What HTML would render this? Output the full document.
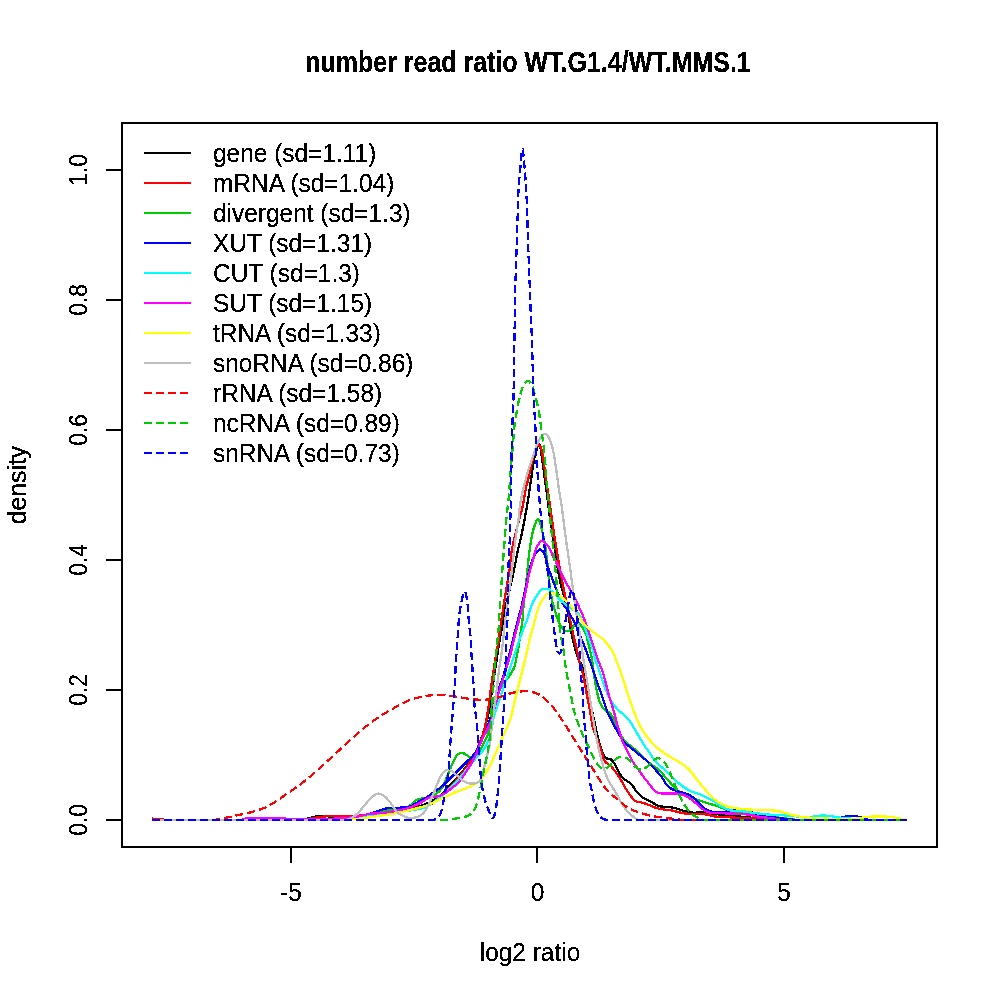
<!DOCTYPE html>
<html><head><meta charset="utf-8"><title>density</title><style>html,body{margin:0;padding:0;background:#fff}svg{display:block}</style></head><body>
<svg width="1000" height="1000" viewBox="0 0 1000 1000">
<defs><filter id="bw" x="-5%" y="-5%" width="110%" height="110%" color-interpolation-filters="sRGB"><feComponentTransfer><feFuncA type="discrete" tableValues="0 1 1"/></feComponentTransfer></filter></defs>
<rect width="1000" height="1000" fill="#fff"/>
<g fill="none" stroke-width="2.3" stroke-linejoin="round" stroke-linecap="butt" shape-rendering="crispEdges">
<path d="M152.0,820.0 C201.3,820.0 250.7,820.0 300.0,820.0 C304.1,819.9 308.0,818.4 312.0,817.5 C314.0,817.1 316.0,816.2 318.0,816.0 C320.7,815.7 323.3,815.8 326.0,816.0 C328.7,816.3 331.3,817.3 334.0,817.5 C338.0,817.8 342.0,817.7 346.0,817.6 C351.3,817.4 356.7,817.2 362.0,816.5 C368.1,815.7 374.0,814.1 380.0,813.0 C384.7,812.1 389.3,811.2 394.0,810.4 C399.3,809.5 404.7,809.0 410.0,808.0 C414.4,807.2 418.8,806.4 423.0,805.0 C426.8,803.7 430.5,802.0 434.0,800.0 C436.8,798.4 439.6,796.6 442.0,794.4 C445.0,791.6 447.2,788.0 450.0,785.0 C452.6,782.2 455.5,779.7 458.0,776.8 C460.8,773.6 463.4,770.3 466.0,767.0 C468.8,763.4 471.9,760.0 474.0,756.0 C477.2,749.9 479.7,743.3 482.0,736.8 C484.4,730.0 486.4,723.0 488.0,716.0 C489.6,708.8 490.4,701.3 491.5,694.0 C492.5,687.3 493.5,680.7 494.5,674.0 C495.5,667.3 496.5,660.7 497.5,654.0 C498.3,648.7 499.1,643.3 500.0,638.0 C500.9,632.7 502.0,627.3 503.0,622.0 C504.0,616.3 504.8,610.6 506.0,605.0 C507.2,599.3 508.7,593.7 510.0,588.0 C511.4,582.0 512.7,576.0 514.0,570.0 C515.4,563.3 516.6,556.6 518.0,550.0 C519.2,544.3 520.8,538.7 522.0,533.0 C522.9,528.7 523.7,524.3 524.5,520.0 C525.7,513.3 526.9,506.7 528.0,500.0 C529.1,493.3 530.0,486.7 531.0,480.0 C532.0,473.3 532.8,466.6 534.0,460.0 C534.6,456.6 535.4,453.3 536.5,450.0 C537.1,448.1 537.2,445.4 539.0,444.5 C540.1,443.9 540.2,446.8 540.5,448.0 C541.2,451.3 541.5,454.7 542.0,458.0 C543.0,465.3 544.0,472.7 545.0,480.0 C545.7,485.0 546.3,490.0 547.0,495.0 C548.0,502.7 548.9,510.3 550.0,518.0 C550.6,522.0 551.4,526.0 552.0,530.0 C553.0,536.7 554.0,543.3 555.0,550.0 C556.0,556.7 556.9,563.4 558.0,570.0 C558.9,575.0 559.8,580.0 561.0,585.0 C562.2,590.0 563.8,595.0 565.0,600.0 C566.3,605.3 567.4,610.6 568.5,616.0 C569.3,620.0 569.8,624.0 570.5,628.0 C571.3,632.0 572.1,636.0 573.0,640.0 C573.6,642.7 574.3,645.4 575.0,648.0 C575.9,651.4 576.7,654.8 578.0,658.0 C579.1,660.8 580.9,663.2 582.0,666.0 C583.1,668.9 583.7,672.0 584.5,675.0 C585.2,677.3 586.0,679.6 586.5,682.0 C587.3,685.6 587.8,689.3 588.5,693.0 C589.3,697.0 590.2,701.0 591.0,705.0 C591.7,708.3 592.3,711.7 593.0,715.0 C593.6,718.0 594.4,721.0 595.0,724.0 C595.7,727.3 596.2,730.7 597.0,734.0 C597.9,737.9 598.8,741.8 600.0,745.6 C601.0,748.9 602.1,752.1 603.6,755.2 C604.2,756.4 604.9,757.6 606.0,758.2 C607.4,759.0 609.4,758.5 610.8,759.4 C612.4,760.4 613.4,762.0 614.4,763.6 C615.8,765.9 616.6,768.5 618.0,770.8 C619.5,773.3 620.8,776.0 622.8,778.0 C625.2,780.4 628.8,781.6 631.2,784.0 C633.6,786.4 634.9,789.8 637.2,792.4 C639.0,794.4 641.0,796.3 643.2,797.8 C645.8,799.5 648.8,800.5 651.6,802.0 C654.0,803.3 656.1,805.4 658.8,806.2 C661.9,807.1 665.2,806.4 668.4,806.8 C671.1,807.2 673.8,807.8 676.4,808.5 C679.1,809.2 681.7,810.5 684.4,811.2 C687.6,812.0 690.8,812.7 694.0,812.8 C696.7,812.9 699.3,811.9 702.0,812.0 C705.2,812.1 708.4,813.2 711.6,813.6 C715.3,814.1 719.1,814.5 722.8,814.9 C726.5,815.3 730.3,815.6 734.0,816.0 C739.3,816.5 744.7,817.0 750.0,817.6 C753.2,817.9 756.4,818.4 759.6,818.7 C766.4,819.2 773.2,819.9 780.0,820.0 C822.3,820.0 864.7,820.0 907.0,820.0" stroke="#000"/>
<rect x="122" y="123" width="815" height="724" stroke="#000"/>
<path d="M291,847 H784 M291,847 V863 M537,847 V863 M784,847 V863" stroke="#000"/>
<path d="M122,820 V170 M122,820 H106 M122,690 H106 M122,560 H106 M122,430 H106 M122,300 H106 M122,170 H106" stroke="#000"/>
<path d="M152.0,818.6 C158.0,819.1 164.0,819.9 170.0,820.0 C213.3,820.0 256.7,820.0 300.0,820.0 C306.7,819.9 313.3,817.9 320.0,817.0 C323.3,816.6 326.7,816.2 330.0,816.0 C333.3,815.8 336.7,816.1 340.0,816.0 C347.3,815.9 354.7,816.1 362.0,815.5 C368.1,815.0 374.0,813.5 380.0,812.5 C384.7,811.7 389.3,810.6 394.0,810.0 C399.3,809.3 404.7,809.1 410.0,808.5 C414.0,808.1 418.0,807.7 422.0,807.0 C424.7,806.5 427.6,806.4 430.0,805.0 C434.5,802.3 438.2,798.5 442.0,795.0 C446.2,791.2 450.2,787.2 454.0,783.0 C458.3,778.2 462.2,773.1 466.0,768.0 C468.9,764.1 471.5,760.1 474.0,756.0 C475.2,754.0 476.1,751.8 477.0,749.6 C479.3,743.8 481.9,738.0 483.6,732.0 C485.8,724.1 487.0,716.0 488.4,708.0 C489.1,703.7 489.4,699.3 490.0,695.0 C490.9,688.0 492.0,681.0 493.0,674.0 C494.0,667.7 494.9,661.3 496.0,655.0 C496.7,650.7 497.8,646.4 498.5,642.0 C499.1,638.0 499.4,634.0 500.0,630.0 C500.8,624.3 501.6,618.7 502.5,613.0 C503.3,607.7 504.1,602.3 505.0,597.0 C505.6,593.0 506.3,589.0 507.0,585.0 C507.8,580.0 508.8,575.0 509.5,570.0 C510.3,564.0 510.6,558.0 511.5,552.0 C512.1,548.0 513.1,544.0 514.0,540.0 C515.6,533.3 517.3,526.7 519.0,520.0 C520.3,515.0 521.9,510.1 523.0,505.0 C524.2,499.4 524.8,493.6 526.0,488.0 C526.8,484.0 528.1,480.0 529.0,476.0 C530.1,471.3 530.9,466.7 532.0,462.0 C532.9,458.0 533.8,453.9 535.0,450.0 C535.4,448.6 536.1,447.2 537.0,446.0 C537.3,445.5 537.9,444.8 538.5,445.0 C539.4,445.3 540.1,446.2 540.5,447.0 C541.3,448.6 541.6,450.3 542.0,452.0 C542.8,456.0 543.4,460.0 544.0,464.0 C544.8,469.3 545.2,474.7 546.0,480.0 C546.6,484.0 547.4,488.0 548.0,492.0 C548.7,496.3 549.4,500.7 550.0,505.0 C550.7,510.0 551.3,515.0 552.0,520.0 C553.0,526.7 553.9,533.3 555.0,540.0 C555.9,546.0 557.0,552.0 558.0,558.0 C559.3,565.3 560.6,572.7 562.0,580.0 C563.3,586.7 564.6,593.4 566.0,600.0 C566.6,602.7 567.4,605.3 568.0,608.0 C568.8,611.6 569.3,615.3 570.0,619.0 C570.6,622.0 571.4,625.0 572.0,628.0 C572.7,631.3 573.3,634.7 574.0,638.0 C574.8,641.4 575.7,644.6 576.5,648.0 C577.4,652.0 578.0,656.0 579.0,660.0 C579.8,663.4 581.2,666.6 582.0,670.0 C583.0,674.0 583.7,678.0 584.5,682.0 C585.2,685.7 585.8,689.3 586.5,693.0 C587.3,697.0 588.2,701.0 589.0,705.0 C589.7,709.0 590.3,713.0 591.0,717.0 C591.6,720.7 592.0,724.4 593.0,728.0 C594.0,731.6 595.7,735.0 597.0,738.5 C598.4,742.5 599.8,746.4 601.2,750.4 C602.4,754.0 602.8,758.0 604.8,761.2 C606.1,763.4 609.0,764.2 610.8,766.0 C612.6,767.8 614.1,769.9 615.6,772.0 C617.3,774.3 618.9,776.7 620.4,779.2 C622.1,781.9 623.5,784.9 625.2,787.6 C626.7,790.1 628.3,792.5 630.0,794.8 C631.5,796.9 632.7,799.4 634.8,800.8 C636.9,802.1 639.6,801.9 642.0,802.6 C644.4,803.3 646.8,804.1 649.2,805.0 C651.6,805.9 653.9,807.3 656.4,808.0 C659.5,808.9 662.8,809.3 666.0,809.8 C668.0,810.1 670.0,810.1 672.0,810.5 C674.0,810.9 676.0,811.6 678.0,812.0 C680.7,812.6 683.3,813.3 686.0,813.6 C689.2,813.9 692.4,813.8 695.6,813.9 C698.8,814.0 702.0,814.0 705.2,814.4 C708.4,814.8 711.6,816.1 714.8,816.5 C718.5,817.0 722.3,816.9 726.0,817.1 C731.3,817.4 736.7,817.9 742.0,818.1 C747.9,818.3 753.8,817.9 759.6,818.4 C761.8,818.6 763.8,820.0 766.0,820.0 C813.0,820.0 860.0,820.0 907.0,820.0" stroke="#f00"/>
<path d="M152.0,820.0 C211.3,820.0 270.7,820.0 330.0,820.0 C335.0,820.0 340.0,818.8 345.0,818.3 C350.7,817.7 356.4,817.4 362.0,816.5 C366.4,815.8 370.7,814.6 375.0,813.5 C377.7,812.8 380.3,811.6 383.0,811.0 C386.6,810.2 390.3,810.0 394.0,809.5 C397.0,809.0 400.0,808.6 403.0,808.0 C404.8,807.6 406.7,807.2 408.4,806.4 C410.1,805.5 411.5,804.2 413.0,803.0 C414.2,802.1 415.0,800.6 416.4,800.0 C418.4,799.1 420.6,798.8 422.8,798.4 C424.8,798.0 427.0,798.3 429.0,797.6 C431.5,796.8 433.9,795.6 436.0,794.0 C438.3,792.3 440.4,790.4 442.0,788.0 C443.8,785.3 444.7,782.0 446.0,779.0 C447.9,774.6 449.6,770.0 451.6,765.6 C453.1,762.3 454.3,758.9 456.4,756.0 C457.5,754.5 459.2,753.2 461.0,752.8 C462.4,752.5 463.8,753.4 465.0,754.0 C466.5,754.7 467.5,756.2 469.0,756.8 C470.6,757.4 472.4,758.1 474.0,757.6 C475.4,757.2 476.1,755.6 477.0,754.5 C478.2,752.9 479.4,751.3 480.4,749.6 C482.7,745.4 484.9,741.2 486.8,736.8 C488.1,733.9 489.5,731.1 490.0,728.0 C491.2,720.4 490.8,712.6 492.0,705.0 C492.5,702.2 493.7,699.5 495.0,697.0 C496.4,694.2 498.3,691.7 500.0,689.0 C501.7,686.3 503.2,683.6 505.0,681.0 C505.5,680.2 506.4,679.7 507.0,679.0 C508.3,677.4 509.4,675.7 510.5,674.0 C511.7,672.0 513.2,670.2 514.0,668.0 C515.0,665.4 515.4,662.7 516.0,660.0 C516.7,656.7 517.4,653.4 518.0,650.0 C519.1,643.4 520.0,636.7 521.0,630.0 C521.5,626.7 522.2,623.4 522.5,620.0 C523.2,613.3 523.3,606.7 524.0,600.0 C524.7,593.3 525.8,586.7 526.5,580.0 C527.4,571.7 528.0,563.3 529.0,555.0 C529.8,548.3 530.7,541.6 532.0,535.0 C532.7,531.4 533.7,527.9 535.0,524.5 C535.7,522.7 536.1,520.1 538.0,519.5 C539.3,519.1 539.5,521.7 540.0,523.0 C540.9,525.3 541.5,527.6 542.0,530.0 C543.1,535.0 544.2,540.0 545.0,545.0 C545.8,550.0 546.4,555.0 547.0,560.0 C547.8,566.7 548.2,573.4 549.0,580.0 C549.8,586.7 550.7,593.4 552.0,600.0 C552.7,603.7 553.9,607.4 555.0,611.0 C555.9,614.0 556.8,617.1 558.0,620.0 C558.8,622.1 559.8,624.1 561.0,626.0 C561.9,627.4 562.6,629.0 564.0,630.0 C565.1,630.8 566.6,631.2 568.0,631.0 C569.5,630.8 570.9,630.1 572.0,629.0 C573.4,627.6 573.7,625.5 575.0,624.0 C575.8,623.1 576.9,621.5 578.0,622.0 C580.0,622.8 580.8,625.2 582.0,627.0 C583.5,629.2 585.0,631.5 586.0,634.0 C587.0,636.6 587.3,639.3 588.0,642.0 C588.7,644.7 589.4,647.3 590.0,650.0 C590.7,653.3 591.5,656.6 592.0,660.0 C592.8,665.0 593.3,670.0 594.0,675.0 C594.6,679.0 595.2,683.0 596.0,687.0 C596.7,690.7 597.5,694.4 598.5,698.0 C599.2,700.4 599.8,702.8 601.0,705.0 C602.0,706.9 603.4,708.6 605.0,710.0 C606.5,711.3 608.7,711.6 610.0,713.0 C611.8,715.0 612.9,717.6 614.0,720.0 C615.2,722.6 615.9,725.4 617.0,728.0 C618.2,730.7 619.4,733.5 621.0,736.0 C622.4,738.2 624.2,740.2 626.0,742.0 C627.8,743.8 630.0,745.3 632.0,747.0 C634.0,748.7 636.1,750.2 638.0,752.0 C640.3,754.1 642.1,756.7 644.4,758.8 C646.7,760.9 649.1,762.9 651.6,764.8 C653.9,766.5 656.7,767.7 658.8,769.6 C661.5,772.1 663.6,775.2 666.0,778.0 C667.3,779.5 668.7,780.9 670.0,782.4 C672.1,784.8 673.9,787.6 676.4,789.6 C679.3,791.9 682.7,793.5 686.0,795.2 C689.1,796.8 692.4,798.0 695.6,799.2 C698.8,800.4 702.0,801.4 705.2,802.4 C709.5,803.8 713.8,804.9 718.0,806.4 C720.7,807.3 723.2,808.8 726.0,809.6 C729.7,810.7 733.4,811.4 737.2,812.0 C741.4,812.7 745.7,813.0 750.0,813.6 C755.3,814.3 760.7,815.3 766.0,816.0 C771.3,816.7 776.7,817.4 782.0,818.0 C788.0,818.7 794.0,819.9 800.0,820.0 C835.7,820.0 871.3,820.0 907.0,820.0" stroke="#00cd00"/>
<path d="M152.0,820.0 C211.3,820.0 270.7,820.0 330.0,820.0 C335.0,820.0 340.0,818.9 345.0,818.3 C350.7,817.6 356.4,817.1 362.0,816.0 C366.1,815.2 370.0,813.7 374.0,812.5 C378.0,811.2 381.9,809.3 386.0,808.5 C389.9,807.7 394.0,808.1 398.0,807.8 C402.0,807.5 406.1,807.6 410.0,806.5 C412.9,805.6 415.3,803.5 418.0,802.0 C420.7,800.5 423.4,799.2 426.0,797.6 C428.8,795.9 431.3,793.9 434.0,792.0 C436.7,790.1 439.5,788.5 442.0,786.4 C444.9,784.0 447.3,781.2 450.0,778.5 C452.7,775.8 455.3,773.1 458.0,770.4 C460.7,767.7 463.3,765.2 466.0,762.5 C468.7,759.8 471.8,757.5 474.0,754.4 C477.2,749.9 479.6,744.9 482.0,740.0 C483.9,736.1 485.5,732.1 487.0,728.0 C488.7,723.4 490.1,718.7 491.5,714.0 C493.9,706.0 496.0,698.0 498.5,690.0 C500.0,685.3 501.8,680.7 503.3,676.0 C505.4,669.0 507.5,662.0 509.3,655.0 C511.1,648.0 512.6,641.0 514.3,634.0 C515.5,629.3 516.8,624.7 518.0,620.0 C519.3,614.8 520.7,609.7 522.0,604.5 C523.1,600.0 524.0,595.5 525.0,591.0 C526.1,585.7 527.1,580.3 528.3,575.0 C529.4,570.3 530.5,565.6 532.0,561.0 C532.8,558.4 534.0,555.9 535.3,553.5 C535.8,552.5 536.7,551.7 537.5,551.0 C538.2,550.4 539.0,549.5 540.0,549.5 C541.0,549.5 541.8,550.3 542.5,551.0 C543.6,552.2 544.5,553.5 545.0,555.0 C546.0,558.2 546.0,561.7 547.0,565.0 C548.0,568.4 549.7,571.6 551.0,575.0 C552.4,578.6 553.6,582.4 555.0,586.0 C556.6,590.0 558.2,594.0 560.0,598.0 C560.9,600.0 561.8,602.1 563.0,604.0 C564.5,606.4 566.4,608.6 568.0,611.0 C569.5,613.3 570.7,615.7 572.0,618.0 C573.3,620.3 574.9,622.5 576.0,625.0 C577.0,627.2 577.1,629.7 578.0,632.0 C578.8,634.1 580.1,636.0 581.0,638.0 C582.1,640.3 583.1,642.6 584.0,645.0 C585.1,647.6 586.0,650.3 587.0,653.0 C587.9,655.3 588.7,657.7 589.5,660.0 C590.7,663.3 591.9,666.7 593.0,670.0 C594.4,674.0 595.6,678.0 597.0,682.0 C598.3,685.7 599.7,689.3 601.0,693.0 C602.0,696.0 603.0,699.0 604.0,702.0 C605.0,705.0 605.8,708.1 607.0,711.0 C608.1,713.8 609.7,716.3 611.0,719.0 C612.3,721.7 613.6,724.4 615.0,727.0 C616.6,730.0 618.2,733.1 620.0,736.0 C621.5,738.4 623.1,740.9 625.0,743.0 C626.4,744.6 628.3,745.6 630.0,747.0 C632.0,748.6 634.0,750.3 636.0,752.0 C638.0,753.7 640.0,755.3 642.0,757.0 C644.4,759.0 646.9,760.8 649.2,763.0 C651.8,765.4 654.1,768.1 656.4,770.8 C658.5,773.1 660.6,775.5 662.4,778.0 C663.8,779.9 664.6,782.1 666.0,784.0 C667.1,785.5 668.4,787.0 670.0,788.0 C672.5,789.5 675.3,790.5 678.0,791.5 C680.6,792.4 683.4,792.6 686.0,793.6 C688.2,794.4 690.5,795.4 692.4,796.8 C694.8,798.6 696.6,801.1 698.8,803.2 C700.9,805.1 702.8,807.2 705.2,808.8 C707.2,810.1 709.3,811.3 711.6,811.7 C715.3,812.4 719.1,812.2 722.8,812.0 C726.6,811.8 730.2,810.7 734.0,810.4 C737.7,810.1 741.5,809.9 745.2,810.4 C748.0,810.7 750.5,812.1 753.2,812.8 C757.4,813.9 761.7,815.1 766.0,816.0 C770.2,816.9 774.5,817.5 778.8,818.0 C785.2,818.8 791.6,819.8 798.0,820.0 C810.3,820.0 822.7,820.0 835.0,820.0 C837.5,819.9 839.6,818.2 842.0,817.5 C844.0,816.9 846.0,816.5 848.0,816.3 C850.7,816.1 853.3,816.1 856.0,816.3 C858.0,816.5 860.0,817.0 862.0,817.5 C864.7,818.2 867.2,819.8 870.0,820.0 C882.3,820.0 894.7,820.0 907.0,820.0" stroke="#00f"/>
<path d="M152.0,820.0 C211.3,820.0 270.7,820.0 330.0,820.0 C335.4,820.0 340.7,818.8 346.0,818.3 C351.3,817.8 356.7,817.6 362.0,817.0 C368.0,816.3 374.0,815.3 380.0,814.5 C384.7,813.8 389.3,813.1 394.0,812.5 C398.3,811.9 402.7,811.7 407.0,811.0 C412.4,810.2 417.8,809.5 423.0,808.0 C425.5,807.3 427.7,805.8 430.0,804.5 C431.9,803.4 433.8,802.1 435.6,800.8 C437.8,799.1 439.9,797.3 442.0,795.5 C444.7,793.1 447.4,790.5 450.0,788.0 C452.7,785.4 455.5,782.8 458.0,780.0 C460.8,776.9 463.4,773.6 466.0,770.4 C468.7,767.1 471.3,763.7 474.0,760.5 C477.1,756.8 480.9,753.6 483.6,749.6 C486.3,745.6 488.6,741.4 490.0,736.8 C492.1,730.1 492.2,722.8 494.0,716.0 C495.9,708.9 498.7,702.0 501.0,695.0 C502.7,690.0 504.3,685.0 506.0,680.0 C508.0,674.0 510.0,668.0 512.0,662.0 C514.0,656.0 515.9,650.0 518.0,644.0 C519.6,639.3 521.3,634.6 523.0,630.0 C524.3,626.6 525.8,623.4 527.0,620.0 C528.1,616.7 528.9,613.3 530.0,610.0 C531.2,606.6 532.4,603.2 534.0,600.0 C535.1,597.9 536.7,596.0 538.0,594.0 C538.8,592.8 539.5,591.4 540.5,590.3 C541.0,589.7 541.7,589.1 542.5,589.0 C544.3,588.7 546.2,588.7 548.0,589.0 C548.9,589.2 549.7,589.8 550.5,590.3 C551.4,590.8 552.3,591.3 553.0,592.0 C555.5,594.4 557.6,597.1 560.0,599.5 C561.9,601.4 563.9,603.3 566.0,605.0 C567.9,606.5 570.0,607.6 572.0,609.0 C573.7,610.1 575.5,611.2 577.0,612.5 C578.2,613.5 579.2,614.7 580.0,616.0 C581.6,618.9 582.8,621.9 584.0,625.0 C585.1,627.9 585.9,631.0 587.0,634.0 C587.9,636.7 589.0,639.3 590.0,642.0 C591.0,644.7 592.2,647.3 593.0,650.0 C594.0,653.3 594.5,656.7 595.5,660.0 C596.5,663.4 597.9,666.7 599.0,670.0 C600.4,674.0 601.6,678.0 603.0,682.0 C604.3,685.7 605.4,689.4 607.0,693.0 C608.4,696.1 610.1,699.1 612.0,702.0 C613.8,704.8 615.7,707.6 618.0,710.0 C619.8,711.9 622.1,713.2 624.0,715.0 C625.7,716.6 627.6,718.1 629.0,720.0 C630.9,722.5 632.4,725.3 634.0,728.0 C635.7,730.8 637.3,733.7 639.0,736.5 C640.7,739.3 642.2,742.2 644.0,745.0 C645.6,747.4 647.4,749.6 649.0,752.0 C650.3,753.8 651.4,755.8 652.8,757.6 C654.7,760.1 656.6,762.6 658.8,764.8 C661.0,767.0 663.7,768.7 666.0,770.8 C667.4,772.1 668.6,773.7 670.0,775.0 C673.1,778.1 676.2,781.3 679.6,784.0 C682.6,786.4 685.8,788.7 689.2,790.4 C693.3,792.4 697.8,793.4 702.0,795.2 C705.8,796.9 709.6,798.7 713.2,800.8 C716.5,802.7 719.4,805.4 722.8,807.2 C725.3,808.6 728.0,809.8 730.8,810.4 C734.5,811.2 738.3,810.8 742.0,811.2 C745.7,811.6 749.5,812.3 753.2,812.8 C757.5,813.4 761.7,814.0 766.0,814.4 C771.3,814.8 776.7,814.9 782.0,815.2 C787.3,815.6 792.7,816.0 798.0,816.5 C800.7,816.8 803.3,817.5 806.0,817.5 C808.7,817.5 811.3,816.8 814.0,816.5 C816.7,816.2 819.3,815.6 822.0,815.5 C824.7,815.4 827.3,815.7 830.0,816.0 C832.7,816.3 835.3,817.2 838.0,817.5 C842.0,818.0 846.0,818.3 850.0,818.6 C856.7,819.1 863.3,819.8 870.0,820.0 C882.3,820.0 894.7,820.0 907.0,820.0" stroke="#0ff"/>
<path d="M152.0,820.0 C181.3,820.0 210.7,820.0 240.0,820.0 C242.7,819.9 245.3,818.2 248.0,818.0 C257.3,817.5 266.7,817.8 276.0,818.0 C280.7,818.1 285.3,818.8 290.0,818.8 C306.7,818.9 323.3,819.1 340.0,818.5 C346.0,818.3 352.0,817.4 358.0,816.5 C362.1,815.9 365.9,814.4 370.0,813.8 C374.3,813.2 378.7,813.5 383.0,813.0 C387.4,812.5 391.7,811.9 396.0,811.0 C400.7,810.0 405.5,809.1 410.0,807.5 C414.2,806.1 418.1,804.0 422.0,802.0 C424.4,800.7 426.4,798.5 429.0,797.6 C431.5,796.7 434.4,797.1 437.0,796.5 C439.4,795.9 441.8,795.2 444.0,794.0 C446.2,792.8 448.0,791.0 450.0,789.5 C452.7,787.4 455.7,785.5 458.0,783.0 C461.1,779.7 463.5,775.8 466.0,772.0 C468.8,767.8 471.7,763.6 474.0,759.0 C477.1,752.9 479.1,746.2 482.0,740.0 C484.5,734.6 487.5,729.4 490.0,724.0 C490.9,722.1 491.4,720.0 492.0,718.0 C494.4,709.4 496.5,700.6 499.0,692.0 C500.5,686.6 502.4,681.3 504.0,676.0 C506.0,669.3 508.2,662.7 510.0,656.0 C511.9,649.1 513.3,642.0 515.0,635.0 C516.3,630.0 517.7,625.0 519.0,620.0 C520.4,614.7 521.8,609.4 523.0,604.0 C524.1,599.4 525.1,594.7 526.0,590.0 C527.1,584.7 527.8,579.3 529.0,574.0 C530.1,569.3 531.7,564.7 533.0,560.0 C534.0,556.3 534.7,552.6 536.0,549.0 C536.7,547.0 537.7,545.2 539.0,543.5 C539.8,542.5 540.7,541.1 542.0,541.0 C543.2,540.9 544.1,542.2 545.0,543.0 C546.1,543.9 547.3,544.8 548.0,546.0 C550.0,549.2 551.3,552.7 553.0,556.0 C554.7,559.3 556.4,562.6 558.0,566.0 C559.7,569.6 561.2,573.4 563.0,577.0 C565.2,581.3 567.6,585.4 570.0,589.5 C571.6,592.4 573.5,595.1 575.0,598.0 C576.5,600.9 577.7,604.0 579.0,607.0 C580.3,610.0 581.8,613.0 583.0,616.0 C584.4,619.6 585.7,623.3 587.0,627.0 C588.0,630.0 589.0,633.0 590.0,636.0 C591.0,639.0 592.0,642.0 593.0,645.0 C594.0,648.0 595.0,651.0 596.0,654.0 C596.7,656.0 597.3,658.0 598.0,660.0 C599.3,663.4 600.8,666.6 602.0,670.0 C603.1,673.3 604.1,676.6 605.0,680.0 C606.1,684.0 606.9,688.0 608.0,692.0 C608.9,695.4 610.0,698.7 611.0,702.0 C612.0,705.3 613.1,708.6 614.0,712.0 C614.7,714.6 615.3,717.4 616.0,720.0 C616.9,723.4 618.0,726.7 619.0,730.0 C620.2,734.0 621.2,738.1 622.8,742.0 C624.1,745.3 626.0,748.4 627.6,751.6 C629.2,754.8 630.6,758.1 632.4,761.2 C634.2,764.2 636.4,766.8 638.4,769.6 C640.4,772.4 642.3,775.2 644.4,778.0 C645.9,780.0 647.6,782.0 649.2,784.0 C650.8,786.0 652.1,788.2 654.0,790.0 C655.4,791.3 657.0,792.5 658.8,793.0 C661.1,793.7 663.6,793.5 666.0,793.6 C669.2,793.7 672.4,793.3 675.6,793.5 C677.8,793.6 679.9,794.0 682.0,794.5 C683.4,794.8 684.8,795.3 686.0,796.0 C688.8,797.7 691.5,799.6 694.0,801.6 C696.8,803.8 699.1,806.7 702.0,808.8 C704.4,810.5 707.1,812.1 710.0,812.8 C713.6,813.7 717.5,813.2 721.2,813.3 C725.5,813.4 729.7,813.4 734.0,813.6 C738.3,813.8 742.6,813.9 746.8,814.4 C751.1,814.9 755.3,816.2 759.6,816.8 C764.4,817.5 769.2,817.7 774.0,818.4 C776.7,818.8 779.3,820.0 782.0,820.0 C823.7,820.0 865.3,820.0 907.0,820.0" stroke="#f0f"/>
<path d="M152.0,820.0 C214.7,820.0 277.3,820.0 340.0,820.0 C347.4,819.9 354.7,819.2 362.0,818.4 C367.4,817.8 372.7,816.8 378.0,816.0 C383.3,815.2 388.7,814.6 394.0,813.6 C399.4,812.6 404.7,811.3 410.0,810.0 C415.4,808.7 420.8,807.5 426.0,805.6 C431.5,803.6 436.7,800.8 442.0,798.4 C447.3,796.0 452.6,793.5 458.0,791.2 C463.3,789.0 468.9,787.5 474.0,784.8 C477.0,783.2 479.8,781.0 482.0,778.4 C485.2,774.5 487.7,770.1 490.0,765.6 C493.7,758.3 496.7,750.5 500.0,743.0 C503.4,735.3 507.2,727.9 510.0,720.0 C512.3,713.5 513.3,706.7 515.0,700.0 C516.7,693.3 518.3,686.7 520.0,680.0 C521.7,673.3 523.4,666.7 525.0,660.0 C526.7,652.7 528.2,645.3 530.0,638.0 C531.5,632.0 533.4,626.0 535.0,620.0 C535.7,617.3 536.2,614.6 537.0,612.0 C537.8,609.3 538.7,606.5 540.0,604.0 C541.4,601.2 543.1,598.5 545.0,596.0 C545.8,595.0 546.9,594.4 548.0,593.8 C548.9,593.3 550.0,593.0 551.0,593.0 C552.2,593.0 553.4,593.3 554.5,593.6 C555.7,593.9 556.9,594.4 558.0,595.0 C559.4,595.7 560.7,596.6 562.0,597.5 C563.4,598.6 564.7,599.8 566.0,601.0 C568.1,602.9 570.2,604.8 572.0,607.0 C573.9,609.2 575.3,611.7 577.0,614.0 C578.7,616.3 580.3,618.7 582.0,621.0 C583.6,623.1 585.2,625.2 587.0,627.0 C588.8,628.8 590.9,630.4 593.0,632.0 C595.3,633.7 597.7,635.3 600.0,637.0 C601.3,638.0 602.8,638.8 604.0,640.0 C605.5,641.5 606.7,643.3 608.0,645.0 C609.0,646.3 610.1,647.6 611.0,649.0 C612.1,650.6 613.2,652.2 614.0,654.0 C614.9,655.9 615.3,658.0 616.0,660.0 C617.3,663.4 618.8,666.6 620.0,670.0 C621.4,674.0 622.7,678.0 624.0,682.0 C625.4,686.3 626.6,690.7 628.0,695.0 C629.2,698.7 630.7,702.3 632.0,706.0 C633.3,709.7 634.6,713.4 636.0,717.0 C637.2,720.0 638.5,723.1 640.0,726.0 C641.5,728.8 643.2,731.4 645.0,734.0 C646.6,736.3 648.3,738.4 650.0,740.5 C651.6,742.4 653.2,744.3 655.0,746.0 C656.9,747.8 659.0,749.4 661.2,751.0 C664.1,753.1 667.0,754.9 670.0,756.8 C673.1,758.8 676.5,760.3 679.6,762.4 C682.9,764.6 686.4,766.8 689.2,769.6 C692.3,772.7 694.5,776.6 697.2,780.0 C699.8,783.3 702.5,786.5 705.2,789.6 C707.8,792.6 710.2,795.8 713.2,798.4 C716.1,800.9 719.3,803.2 722.8,804.8 C726.3,806.4 730.2,807.3 734.0,808.0 C739.3,808.9 744.7,809.3 750.0,809.6 C755.3,809.9 760.7,809.7 766.0,810.0 C770.3,810.2 774.6,810.4 778.8,811.2 C782.6,811.9 786.2,813.5 790.0,814.4 C793.7,815.3 797.4,816.2 801.2,816.8 C805.4,817.4 809.7,817.7 814.0,818.0 C819.3,818.4 824.7,818.6 830.0,818.7 C838.3,818.9 846.7,819.1 855.0,818.8 C858.0,818.7 861.0,817.7 864.0,817.3 C866.7,817.0 869.3,816.7 872.0,816.6 C876.7,816.5 881.3,816.4 886.0,816.6 C888.7,816.7 891.3,817.1 894.0,817.5 C896.7,817.9 899.3,818.3 902.0,818.8 C903.7,819.1 905.3,819.6 907.0,820.0" stroke="#ff0"/>
<path d="M152.0,820.0 C216.0,820.0 280.0,820.0 344.0,820.0 C346.3,820.0 348.8,819.5 350.8,818.4 C353.8,816.8 356.4,814.4 358.8,812.0 C362.3,808.5 365.1,804.4 368.4,800.8 C370.1,798.9 371.9,797.0 374.0,795.5 C375.4,794.5 377.1,793.5 378.8,793.6 C380.7,793.7 382.5,794.7 384.0,795.8 C385.9,797.2 387.5,799.0 389.0,800.8 C391.9,804.4 393.9,808.6 397.0,812.0 C398.6,813.8 400.9,814.8 403.0,816.0 C404.3,816.7 405.6,817.4 407.0,817.6 C409.6,818.0 412.4,818.0 415.0,817.6 C416.8,817.4 418.5,816.7 420.0,815.8 C421.7,814.8 423.4,813.6 424.4,812.0 C427.6,806.9 429.9,801.4 432.4,796.0 C435.3,789.7 437.3,783.0 440.4,776.8 C441.4,774.8 442.8,773.0 444.5,771.5 C445.6,770.5 447.0,769.6 448.4,769.6 C449.9,769.6 451.3,770.7 452.5,771.5 C453.9,772.5 455.1,773.9 456.4,775.0 C459.0,777.2 461.5,779.7 464.4,781.6 C465.8,782.5 467.4,783.0 469.0,783.3 C470.6,783.6 472.3,783.7 474.0,783.5 C475.4,783.3 476.8,783.0 478.0,782.3 C479.0,781.8 480.0,781.0 480.4,780.0 C482.4,774.8 483.6,769.4 485.0,764.0 C486.8,757.0 488.8,750.1 490.0,743.0 C491.3,735.4 491.5,727.7 492.5,720.0 C493.5,711.7 494.9,703.3 496.0,695.0 C497.1,686.7 497.9,678.3 499.0,670.0 C499.9,663.3 501.2,656.7 502.0,650.0 C503.2,640.7 503.9,631.3 505.0,622.0 C505.9,614.7 507.0,607.3 508.0,600.0 C508.8,594.0 509.7,588.0 510.5,582.0 C511.4,574.7 512.1,567.3 513.0,560.0 C514.0,551.7 514.9,543.3 516.0,535.0 C516.7,530.0 517.8,525.0 518.5,520.0 C519.2,515.0 519.3,510.0 520.0,505.0 C520.8,500.0 521.8,495.0 523.0,490.0 C524.2,485.0 525.6,480.0 527.0,475.0 C528.2,470.6 529.6,466.3 531.0,462.0 C532.3,458.0 533.6,454.0 535.0,450.0 C536.2,446.6 537.4,443.2 539.0,440.0 C539.8,438.4 540.7,436.8 542.0,435.5 C542.8,434.7 543.9,434.0 545.0,434.0 C546.0,434.0 546.9,434.8 547.5,435.5 C548.6,436.8 549.4,438.4 550.0,440.0 C551.2,443.3 552.3,446.6 553.0,450.0 C554.3,455.9 555.1,462.0 556.0,468.0 C557.1,475.3 557.9,482.7 559.0,490.0 C559.7,495.0 560.7,500.0 561.5,505.0 C562.2,510.0 562.9,515.0 563.5,520.0 C564.4,526.7 565.1,533.3 566.0,540.0 C566.9,546.7 568.0,553.3 569.0,560.0 C569.7,565.0 570.3,570.0 571.0,575.0 C571.7,580.0 572.3,585.0 573.0,590.0 C573.7,595.0 574.3,600.0 575.0,605.0 C575.8,610.0 576.7,615.0 577.5,620.0 C578.3,625.0 579.2,630.0 580.0,635.0 C580.7,640.0 581.3,645.0 582.0,650.0 C582.5,653.3 583.0,656.7 583.5,660.0 C584.3,665.0 585.2,670.0 586.0,675.0 C586.8,680.0 587.7,685.0 588.5,690.0 C589.3,695.0 590.2,700.0 591.0,705.0 C591.7,709.3 592.3,713.7 593.0,718.0 C593.6,722.0 594.3,726.0 595.0,730.0 C595.7,734.0 596.4,738.0 597.2,742.0 C598.0,746.0 599.0,750.0 600.0,754.0 C601.3,759.2 602.6,764.5 604.2,769.6 C605.4,773.3 606.7,776.9 608.4,780.4 C610.5,784.6 613.3,788.4 615.6,792.4 C617.7,796.0 619.4,799.7 621.6,803.2 C623.4,806.1 625.3,809.0 627.6,811.6 C629.4,813.6 631.4,815.5 633.6,817.0 C635.4,818.3 637.4,820.0 639.6,820.0 C728.7,820.0 817.9,820.0 907.0,820.0" stroke="#bebebe"/>
<path d="M152.0,818.8 C156.7,819.2 161.3,819.9 166.0,820.0 C175.7,820.0 185.3,820.0 195.0,820.0 C201.0,820.0 207.0,820.0 213.0,820.0 C217.0,819.7 221.0,818.8 225.0,818.0 C228.0,817.4 231.0,816.7 234.0,816.0 C239.3,814.8 244.7,813.9 250.0,812.5 C254.7,811.2 259.5,809.9 264.0,808.0 C267.9,806.4 271.4,804.2 275.0,802.0 C278.8,799.7 282.3,796.9 286.0,794.4 C289.3,792.1 292.7,789.9 296.0,787.5 C299.4,785.1 302.7,782.6 306.0,780.0 C309.4,777.3 312.7,774.4 316.0,771.5 C319.4,768.5 322.7,765.4 326.0,762.4 C328.3,760.3 330.7,758.1 333.0,756.0 C337.3,752.0 341.6,748.0 346.0,744.0 C351.3,739.2 356.5,734.2 362.0,729.6 C367.1,725.4 372.5,721.3 378.0,717.6 C383.2,714.1 388.6,711.0 394.0,708.0 C399.2,705.1 404.4,702.1 410.0,700.0 C415.1,698.1 420.6,696.9 426.0,696.0 C431.3,695.2 436.7,694.7 442.0,694.9 C447.4,695.1 452.7,696.3 458.0,697.0 C463.3,697.8 468.6,699.0 474.0,699.4 C478.7,699.8 483.4,699.9 488.0,699.5 C492.1,699.1 496.1,698.1 500.0,697.0 C503.4,696.1 506.6,694.5 510.0,693.5 C512.6,692.7 515.3,692.1 518.0,691.8 C521.3,691.4 524.7,690.8 528.0,691.2 C531.4,691.6 534.9,692.5 538.0,694.0 C541.0,695.5 543.5,697.8 546.0,700.0 C548.1,701.8 550.2,703.9 552.0,706.0 C554.2,708.5 556.1,711.3 558.0,714.0 C559.4,716.0 560.7,718.0 562.0,720.0 C564.2,723.3 566.4,726.6 568.5,730.0 C570.1,732.5 571.5,735.0 573.0,737.5 C574.8,740.4 576.6,743.2 578.4,746.0 C580.8,749.9 583.2,753.7 585.6,757.6 C588.4,762.0 591.2,766.4 594.0,770.8 C596.0,774.0 597.9,777.3 600.0,780.4 C601.9,783.3 603.8,786.2 606.0,788.8 C607.8,791.0 609.9,792.9 612.0,794.8 C614.3,796.9 616.8,798.8 619.2,800.8 C621.6,802.8 623.8,805.1 626.4,806.8 C628.6,808.3 631.1,809.4 633.6,810.4 C636.3,811.6 639.2,812.5 642.0,813.4 C645.2,814.3 648.4,815.1 651.6,815.8 C654.8,816.5 658.0,817.0 661.2,817.4 C665.2,818.0 669.2,818.4 673.2,818.8 C677.2,819.2 681.2,820.0 685.2,820.0 C759.1,820.0 833.1,820.0 907.0,820.0" stroke="#f00" stroke-dasharray="8 4"/>
<path d="M152.0,820.0 C248.7,820.0 345.3,820.0 442.0,820.0 C446.4,820.0 450.7,819.3 455.0,818.6 C459.2,817.9 463.6,817.4 467.6,816.0 C469.4,815.4 470.7,813.9 472.0,812.5 C473.4,810.9 474.8,809.2 475.6,807.2 C477.1,803.6 477.9,799.8 478.8,796.0 C480.6,788.0 482.0,780.0 483.6,772.0 C485.2,764.0 487.1,756.1 488.4,748.0 C489.4,742.0 490.0,736.0 490.5,730.0 C491.4,720.0 491.8,710.0 492.5,700.0 C493.1,690.7 493.8,681.3 494.5,672.0 C494.9,666.3 495.5,660.7 496.0,655.0 C496.5,650.0 497.0,645.0 497.5,640.0 C498.0,635.3 498.5,630.7 498.8,626.0 C499.1,621.7 499.2,617.3 499.5,613.0 C499.7,609.3 500.0,605.7 500.3,602.0 C500.6,598.3 501.0,594.7 501.2,591.0 C501.5,585.7 501.7,580.3 502.0,575.0 C502.4,568.3 503.0,561.7 503.5,555.0 C504.0,548.3 504.5,541.7 505.0,535.0 C505.5,529.3 505.9,523.7 506.5,518.0 C507.1,512.0 507.9,506.0 508.5,500.0 C509.1,493.3 509.5,486.7 510.0,480.0 C510.5,473.3 510.9,466.7 511.5,460.0 C511.9,455.0 512.6,450.0 513.0,445.0 C513.4,440.0 513.5,435.0 514.0,430.0 C514.3,426.7 514.8,423.3 515.3,420.0 C515.8,416.7 516.4,413.3 517.0,410.0 C517.6,406.7 518.2,403.3 519.0,400.0 C519.9,396.3 520.7,392.6 522.0,389.0 C522.7,386.9 523.7,384.8 525.0,383.0 C525.8,381.9 526.7,380.5 528.0,380.5 C529.2,380.5 529.8,382.0 530.5,383.0 C531.5,384.6 532.4,386.2 533.0,388.0 C534.2,391.6 535.0,395.3 536.0,399.0 C536.9,402.3 537.8,405.6 538.5,409.0 C539.2,412.3 539.5,415.7 540.0,419.0 C540.5,422.7 541.0,426.3 541.5,430.0 C542.0,434.0 542.5,438.0 543.0,442.0 C543.5,446.0 544.1,450.0 544.5,454.0 C544.9,458.0 545.2,462.0 545.5,466.0 C545.9,470.7 546.1,475.3 546.5,480.0 C546.9,485.0 547.5,490.0 548.0,495.0 C548.5,500.0 549.0,505.0 549.5,510.0 C549.8,513.3 550.0,516.7 550.3,520.0 C551.1,528.3 552.1,536.7 553.0,545.0 C553.7,551.7 554.4,558.3 555.0,565.0 C555.7,572.7 556.4,580.3 557.0,588.0 C557.6,595.3 558.0,602.7 558.5,610.0 C559.0,616.7 559.2,623.4 560.0,630.0 C560.8,636.7 562.5,643.3 563.5,650.0 C564.3,655.3 564.7,660.7 565.5,666.0 C566.1,670.0 566.8,674.0 567.5,678.0 C568.1,681.3 568.8,684.7 569.5,688.0 C570.2,691.3 570.9,694.7 571.5,698.0 C572.2,701.7 572.6,705.4 573.5,709.0 C574.3,712.4 575.4,715.7 576.5,719.0 C577.5,722.0 578.8,725.0 580.0,728.0 C581.3,731.3 582.5,734.7 584.0,738.0 C585.4,741.1 587.1,744.0 588.5,747.0 C590.0,750.1 591.2,753.4 592.8,756.4 C594.6,759.7 596.3,763.1 598.8,766.0 C600.0,767.4 601.7,769.0 603.6,769.0 C605.8,769.0 607.9,767.4 609.6,766.0 C611.2,764.7 611.8,762.6 613.2,761.2 C614.6,759.8 616.2,758.6 618.0,757.6 C619.1,757.0 620.4,756.4 621.6,756.6 C623.7,756.9 625.8,757.6 627.6,758.8 C629.5,760.0 630.8,762.0 632.4,763.6 C634.0,765.2 635.3,767.2 637.2,768.4 C638.6,769.3 640.4,770.0 642.0,769.6 C644.3,769.1 646.2,767.4 648.0,766.0 C649.8,764.6 651.0,762.6 652.8,761.2 C654.3,760.0 655.7,758.2 657.6,758.2 C659.8,758.2 662.1,759.6 663.6,761.2 C665.8,763.5 666.9,766.7 668.4,769.6 C669.7,772.2 670.9,774.8 672.0,777.5 C673.0,779.9 673.8,782.4 674.8,784.8 C676.3,788.6 677.8,792.4 679.6,796.0 C681.5,799.8 683.5,803.7 686.0,807.2 C687.8,809.8 690.0,812.3 692.4,814.4 C694.3,816.0 696.6,817.0 698.8,818.1 C700.3,818.9 701.9,820.0 703.6,820.0 C771.4,820.0 839.2,820.0 907.0,820.0" stroke="#00cd00" stroke-dasharray="8 4"/>
<path d="M152.0,820.0 C245.5,820.0 338.9,820.0 432.4,820.0 C434.1,820.0 435.7,819.0 437.0,818.0 C438.4,816.8 439.7,815.3 440.4,813.6 C442.0,809.5 442.8,805.1 443.6,800.8 C445.4,791.2 447.2,781.7 448.4,772.0 C449.4,764.0 449.4,756.0 450.0,748.0 C450.8,737.3 451.6,726.7 452.4,716.0 C453.2,705.3 454.1,694.7 454.8,684.0 C455.3,676.0 455.5,668.0 456.0,660.0 C456.3,655.7 456.7,651.3 457.0,647.0 C457.3,643.0 457.5,639.0 457.8,635.0 C458.0,631.3 458.2,627.7 458.5,624.0 C458.8,620.3 459.0,616.6 459.5,613.0 C460.0,609.3 460.8,605.7 461.5,602.0 C462.0,599.7 462.3,597.3 463.0,595.0 C463.3,593.8 463.2,591.5 464.5,591.5 C465.8,591.5 465.7,593.8 466.0,595.0 C466.7,597.6 467.2,600.3 467.5,603.0 C468.0,607.0 468.0,611.0 468.3,615.0 C468.6,619.0 469.1,623.0 469.5,627.0 C469.9,630.7 470.3,634.3 470.6,638.0 C470.9,642.0 471.0,646.0 471.2,650.0 C471.4,654.0 471.7,658.0 472.0,662.0 C472.5,669.7 473.1,677.3 473.5,685.0 C473.9,691.7 473.9,698.3 474.5,705.0 C474.9,710.0 475.9,715.0 476.4,720.0 C477.3,729.3 478.1,738.7 478.8,748.0 C479.7,758.7 479.9,769.4 481.2,780.0 C482.0,787.0 483.4,794.0 485.2,800.8 C486.4,805.2 488.2,809.4 490.0,813.6 C490.7,815.2 490.8,818.2 492.5,818.0 C494.4,817.8 494.5,814.8 495.0,813.0 C496.1,808.7 496.5,804.4 497.0,800.0 C497.8,793.3 498.5,786.7 499.0,780.0 C499.8,770.0 500.3,760.0 501.0,750.0 C501.7,740.0 502.3,730.0 503.0,720.0 C503.5,713.3 504.1,706.7 504.5,700.0 C504.8,694.7 504.8,689.3 505.0,684.0 C505.3,673.3 505.6,662.7 506.0,652.0 C506.1,648.0 506.3,644.0 506.5,640.0 C506.7,636.0 506.8,632.0 507.0,628.0 C507.2,624.7 507.4,621.3 507.5,618.0 C507.7,613.7 507.7,609.3 507.8,605.0 C507.9,600.0 507.9,595.0 508.0,590.0 C508.1,583.3 508.1,576.7 508.3,570.0 C508.4,565.0 508.8,560.0 509.0,555.0 C509.3,548.3 509.8,541.7 510.0,535.0 C510.2,530.0 510.2,525.0 510.3,520.0 C510.5,513.3 510.8,506.7 511.0,500.0 C511.1,493.3 511.1,486.7 511.2,480.0 C511.3,473.3 511.4,466.7 511.5,460.0 C511.6,453.3 511.8,446.7 512.0,440.0 C512.2,433.3 512.4,426.7 512.6,420.0 C512.9,411.7 513.3,403.3 513.5,395.0 C513.7,386.7 513.9,378.3 514.0,370.0 C514.2,358.3 514.3,346.7 514.5,335.0 C514.6,330.0 514.7,325.0 514.8,320.0 C514.9,311.0 514.9,302.0 515.1,293.0 C515.3,284.0 515.7,275.0 516.0,266.0 C516.3,257.0 516.6,248.0 516.9,239.0 C517.2,230.0 517.5,221.0 517.8,212.0 C518.1,203.0 518.2,194.0 518.7,185.0 C519.1,179.0 520.0,173.0 520.5,167.0 C520.9,162.7 520.9,158.3 521.3,154.0 C521.5,152.3 520.8,149.8 522.3,149.0 C523.5,148.4 523.0,151.6 523.2,153.0 C523.6,155.9 523.9,158.7 524.1,161.6 C524.8,169.4 525.4,177.2 525.9,185.0 C526.5,194.0 526.9,203.0 527.2,212.0 C527.5,221.0 527.6,230.0 527.9,239.0 C528.2,248.0 528.6,257.0 529.0,266.0 C529.3,275.0 529.7,284.0 530.0,293.0 C530.3,301.3 530.6,309.7 531.0,318.0 C531.3,325.3 531.7,332.7 532.0,340.0 C532.2,346.7 532.3,353.3 532.5,360.0 C532.7,366.7 532.8,373.3 533.0,380.0 C533.1,385.0 533.3,390.0 533.5,395.0 C533.6,398.3 533.8,401.7 534.0,405.0 C534.3,410.0 534.7,415.0 535.0,420.0 C535.2,423.3 535.4,426.7 535.5,430.0 C535.7,435.0 535.8,440.0 536.0,445.0 C536.2,450.7 536.2,456.3 536.5,462.0 C536.8,467.3 537.6,472.7 538.0,478.0 C538.3,482.0 538.3,486.0 538.6,490.0 C538.8,493.3 539.2,496.7 539.5,500.0 C539.8,504.0 540.1,508.0 540.5,512.0 C540.8,514.7 541.2,517.3 541.5,520.0 C542.0,525.0 542.4,530.0 543.0,535.0 C543.6,540.0 544.3,545.0 545.0,550.0 C545.7,555.0 546.4,560.0 547.0,565.0 C547.7,570.7 548.4,576.3 549.0,582.0 C549.6,587.3 549.9,592.7 550.5,598.0 C550.9,602.0 551.6,606.0 552.0,610.0 C552.3,613.3 552.4,616.7 552.8,620.0 C553.3,624.3 553.9,628.7 554.5,633.0 C555.0,636.7 555.4,640.3 556.0,644.0 C556.4,646.4 556.7,648.8 557.5,651.0 C557.9,652.0 558.5,653.8 559.5,653.5 C560.8,653.2 561.1,651.3 561.5,650.0 C562.2,648.1 562.5,646.0 562.8,644.0 C563.4,639.4 563.4,634.6 564.0,630.0 C564.4,626.6 565.1,623.3 565.7,620.0 C566.8,613.3 567.8,606.7 569.0,600.0 C569.4,597.5 569.8,595.0 570.5,592.5 C570.8,591.4 570.9,589.7 572.0,589.5 C572.9,589.3 573.0,591.1 573.2,592.0 C573.6,593.6 573.7,595.3 574.0,597.0 C574.6,600.7 575.4,604.3 576.0,608.0 C576.6,612.0 577.2,616.0 577.5,620.0 C577.8,624.0 577.7,628.0 578.0,632.0 C578.2,635.7 578.7,639.3 579.0,643.0 C579.4,647.7 579.7,652.3 580.0,657.0 C580.4,663.7 580.5,670.3 581.0,677.0 C581.3,680.7 582.2,684.3 582.5,688.0 C582.8,692.0 582.8,696.0 583.0,700.0 C583.2,703.7 583.3,707.3 583.5,711.0 C583.8,715.0 584.1,719.0 584.5,723.0 C584.9,726.7 585.5,730.3 585.8,734.0 C586.1,738.3 585.9,742.7 586.3,747.0 C586.7,751.4 587.6,755.6 588.0,760.0 C588.6,766.0 588.5,772.0 589.2,778.0 C589.7,782.1 590.8,786.0 591.6,790.0 C592.4,794.0 593.0,798.0 594.0,802.0 C594.8,805.3 595.5,808.6 597.0,811.6 C598.2,814.1 599.5,816.7 601.8,818.2 C604.0,819.7 606.9,820.0 609.6,820.0 C708.7,820.0 807.9,820.0 907.0,820.0" stroke="#00f" stroke-dasharray="8 4"/>
<path d="M144,153 H191" stroke="#000"/>
<path d="M144,183 H191" stroke="#f00"/>
<path d="M144,213 H191" stroke="#00cd00"/>
<path d="M144,243 H191" stroke="#00f"/>
<path d="M144,273 H191" stroke="#0ff"/>
<path d="M144,303 H191" stroke="#f0f"/>
<path d="M144,333 H191" stroke="#ff0"/>
<path d="M144,363 H191" stroke="#bebebe"/>
<path d="M144,393 H191" stroke="#f00" stroke-dasharray="8 4"/>
<path d="M144,423 H191" stroke="#00cd00" stroke-dasharray="8 4"/>
<path d="M144,453 H191" stroke="#00f" stroke-dasharray="8 4"/>
</g>
<g font-family="Liberation Sans, sans-serif" font-size="25" fill="#000" filter="url(#bw)">
<text transform="translate(213,162) scale(0.978,1)">gene (sd=1.11)</text>
<text transform="translate(213,192) scale(0.978,1)">mRNA (sd=1.04)</text>
<text transform="translate(213,222) scale(0.978,1)">divergent (sd=1.3)</text>
<text transform="translate(213,252) scale(0.978,1)">XUT (sd=1.31)</text>
<text transform="translate(213,282) scale(0.978,1)">CUT (sd=1.3)</text>
<text transform="translate(213,312) scale(0.978,1)">SUT (sd=1.15)</text>
<text transform="translate(213,342) scale(0.978,1)">tRNA (sd=1.33)</text>
<text transform="translate(213,372) scale(0.978,1)">snoRNA (sd=0.86)</text>
<text transform="translate(213,402) scale(0.978,1)">rRNA (sd=1.58)</text>
<text transform="translate(213,432) scale(0.978,1)">ncRNA (sd=0.89)</text>
<text transform="translate(213,462) scale(0.978,1)">snRNA (sd=0.73)</text>
<text text-anchor="middle" transform="translate(291,901) scale(0.978,1)">-5</text>
<text text-anchor="middle" transform="translate(537.5,901) scale(0.978,1)">0</text>
<text text-anchor="middle" transform="translate(784,901) scale(0.978,1)">5</text>
<text text-anchor="middle" transform="translate(530,960.6) scale(0.978,1)">log2 ratio</text>
<text text-anchor="middle" transform="translate(87,820) rotate(-90) scale(0.91,1)">0.0</text>
<text text-anchor="middle" transform="translate(87,690) rotate(-90) scale(0.91,1)">0.2</text>
<text text-anchor="middle" transform="translate(87,560) rotate(-90) scale(0.91,1)">0.4</text>
<text text-anchor="middle" transform="translate(87,430) rotate(-90) scale(0.91,1)">0.6</text>
<text text-anchor="middle" transform="translate(87,300) rotate(-90) scale(0.91,1)">0.8</text>
<text text-anchor="middle" transform="translate(87,170) rotate(-90) scale(0.91,1)">1.0</text>
<text text-anchor="middle" transform="translate(26,485) rotate(-90) scale(0.992,1)">density</text>
</g>
<g font-family="Liberation Sans, sans-serif" font-size="30" font-weight="bold" fill="#000" filter="url(#bw)">
<text text-anchor="middle" transform="translate(528,72) scale(0.833,1)">number read ratio WT.G1.4/WT.MMS.1</text>
</g>
</svg>
</body></html>
